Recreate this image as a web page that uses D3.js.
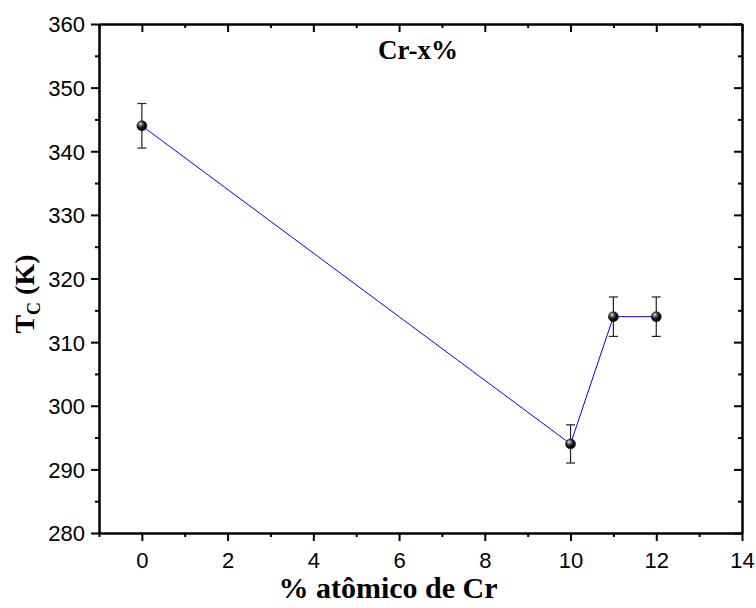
<!DOCTYPE html>
<html>
<head>
<meta charset="utf-8">
<script src="https://cdn.jsdelivr.net/npm/d3@7"></script>
<style>
  body { margin: 0; background: #fff; }
  .tick-label { font-family: Arial, "Liberation Sans", sans-serif; font-size: 22px; fill: #000; }
  .serif-bold { font-family: "Times New Roman", "Liberation Serif", serif; font-weight: bold; fill: #000; }
</style>
</head>
<body>
<svg id="chart" width="756" height="608"></svg>
<script>
// data
const crPercent = [0, 10, 11, 12];
const tcValues = [344, 294, 314, 314];
const tcErrors = [3.5, 3, 3.1, 3.1];
const xTicks = [0, 2, 4, 6, 8, 10, 12, 14];
const yTicks = [280, 290, 300, 310, 320, 330, 340, 350, 360];

const margin = { top: 24, right: 14, bottom: 75, left: 99 };
const width = 756, height = 608;
const svg = d3.select("#chart");

const x = d3.scaleLinear().domain([-1, 14]).range([margin.left, width - margin.right]);
const y = d3.scaleLinear().domain([280, 360]).range([height - margin.bottom, margin.top]);

const x0 = x.range()[0], x1 = x.range()[1];
const y0 = y.range()[0], y1 = y.range()[1];

const defs = svg.append("defs");
const grad = defs.append("radialGradient").attr("id", "ball")
  .attr("cx", "40%").attr("cy", "35%").attr("r", "65%").attr("fx", "35%").attr("fy", "30%");
grad.append("stop").attr("offset", "0%").attr("stop-color", "#e8e8e8");
grad.append("stop").attr("offset", "25%").attr("stop-color", "#777");
grad.append("stop").attr("offset", "60%").attr("stop-color", "#111");
grad.append("stop").attr("offset", "100%").attr("stop-color", "#000");

const xMinor = d3.range(-1, 14.01, 1).filter(v => !xTicks.includes(v));
const yMinor = d3.range(285, 360, 10);

// axes: bottom & left outward, top & right inward
const bottom = svg.append("g").attr("transform", `translate(0,${y0})`)
  .call(d3.axisBottom(x).tickValues(xTicks).tickSize(8).tickSizeOuter(0).tickPadding(6));
svg.append("g").attr("transform", `translate(0,${y0})`)
  .call(d3.axisBottom(x).tickValues(xMinor).tickSize(4).tickSizeOuter(0).tickFormat(""));
const left = svg.append("g").attr("transform", `translate(${x0},0)`)
  .call(d3.axisLeft(y).tickValues(yTicks).tickSize(8).tickSizeOuter(0).tickPadding(6));
svg.append("g").attr("transform", `translate(${x0},0)`)
  .call(d3.axisLeft(y).tickValues(yMinor).tickSize(4).tickSizeOuter(0).tickFormat(""));
svg.append("g").attr("transform", `translate(0,${y1})`)
  .call(d3.axisBottom(x).tickValues(xTicks).tickSize(8).tickSizeOuter(0).tickFormat(""));
svg.append("g").attr("transform", `translate(0,${y1})`)
  .call(d3.axisBottom(x).tickValues(xMinor).tickSize(4).tickSizeOuter(0).tickFormat(""));
svg.append("g").attr("transform", `translate(${x1},0)`)
  .call(d3.axisLeft(y).tickValues(yTicks).tickSize(8).tickSizeOuter(0).tickFormat(""));
svg.append("g").attr("transform", `translate(${x1},0)`)
  .call(d3.axisLeft(y).tickValues(yMinor).tickSize(4).tickSizeOuter(0).tickFormat(""));

svg.selectAll(".domain").attr("stroke", "#000").attr("stroke-width", 2);
svg.selectAll(".tick line").attr("stroke", "#000").attr("stroke-width", 2);
svg.selectAll(".tick text").attr("class", "tick-label").attr("font-size", null).attr("font-family", null);
bottom.selectAll("text").attr("dy", "0.95em");
left.selectAll("text").attr("dy", "0.36em");

// data line
svg.append("path")
  .datum(crPercent.map((d, i) => [d, tcValues[i]]))
  .attr("fill", "none").attr("stroke", "#0000ff").attr("stroke-width", 1)
  .attr("d", d3.line().x(d => x(d[0])).y(d => y(d[1])));

// error bars
const err = svg.append("g").attr("stroke", "#222").attr("stroke-width", 1.2);
crPercent.forEach((d, i) => {
  const cx = x(d), top = y(tcValues[i] + tcErrors[i]), bot = y(tcValues[i] - tcErrors[i]);
  err.append("line").attr("x1", cx).attr("x2", cx).attr("y1", top).attr("y2", bot);
  err.append("line").attr("x1", cx - 4.5).attr("x2", cx + 4.5).attr("y1", top).attr("y2", top);
  err.append("line").attr("x1", cx - 4.5).attr("x2", cx + 4.5).attr("y1", bot).attr("y2", bot);
});

// markers
svg.append("g").selectAll("circle")
  .data(crPercent.map((d, i) => [d, tcValues[i]]))
  .join("circle")
  .attr("cx", d => x(d[0])).attr("cy", d => y(d[1])).attr("r", 5)
  .attr("fill", "url(#ball)").attr("stroke", "#000").attr("stroke-width", 0.5);

// title and labels
svg.append("text").attr("class", "serif-bold")
  .attr("x", 418).attr("y", 59).attr("text-anchor", "middle")
  .attr("font-size", 27).text("Cr-x%");

svg.append("text").attr("class", "serif-bold")
  .attr("x", 388).attr("y", 598).attr("text-anchor", "middle")
  .attr("font-size", 30).text("% atômico de Cr");

const yl = svg.append("text").attr("class", "serif-bold")
  .attr("transform", `translate(34,${294}) rotate(-90)`)
  .attr("text-anchor", "middle").attr("font-size", 28);
yl.append("tspan").text("T");
yl.append("tspan").attr("font-size", 18).attr("dy", 6).text("C");
yl.append("tspan").attr("dy", -6).text(" (K)");
</script>
</body>
</html>
